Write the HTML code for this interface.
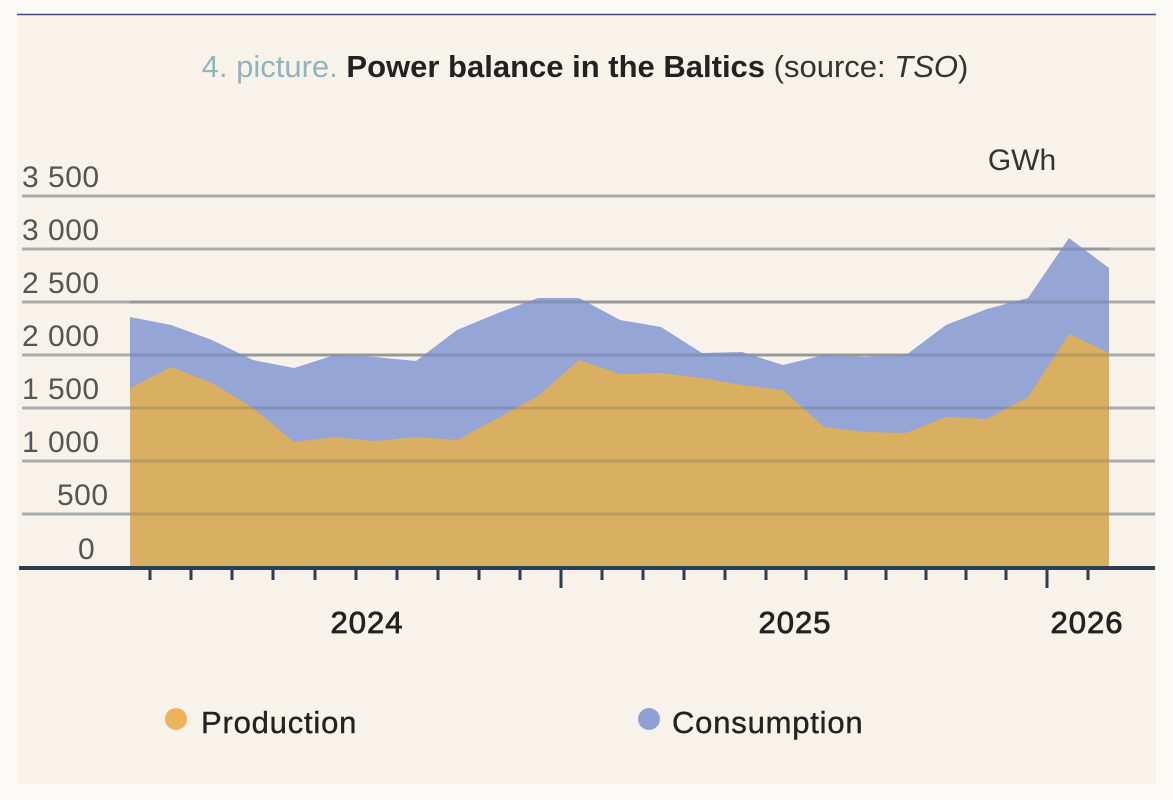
<!DOCTYPE html>
<html><head><meta charset="utf-8"><style>
body{margin:0;background:#fbfaf6;}
svg{display:block;font-family:"Liberation Sans",sans-serif;}
</style></head><body>
<svg width="1173" height="800" viewBox="0 0 1173 800">
<rect x="0" y="0" width="1173" height="800" fill="#fbfaf6"/>
<rect x="17" y="14" width="1139" height="770" fill="#f7f3ea"/>
<line x1="17" y1="14.5" x2="1156" y2="14.5" stroke="#3b4a8a" stroke-width="1.5"/>
<text x="585" y="77" text-anchor="middle" font-size="31"><tspan fill="#8fb5bd">4. picture. </tspan><tspan fill="#222" font-weight="bold">Power balance in the Baltics</tspan><tspan fill="#333"> (source: </tspan><tspan fill="#333" font-style="italic">TSO</tspan><tspan fill="#333">)</tspan></text>
<text x="1022" y="170" text-anchor="middle" font-size="30" fill="#333">GWh</text>
<g font-size="30" fill="#555" letter-spacing="0.5">
<text x="22" y="187">3 500</text>
<text x="22" y="240">3 000</text>
<text x="22" y="293">2 500</text>
<text x="22" y="346">2 000</text>
<text x="22" y="399">1 500</text>
<text x="22" y="452">1 000</text>
<text x="57" y="505">500</text>
<text x="78" y="559">0</text>
</g>
<g stroke="#ababab" stroke-width="3">
<line x1="22" y1="196" x2="1155" y2="196"/>
<line x1="22" y1="249" x2="1155" y2="249"/>
<line x1="22" y1="302" x2="1155" y2="302"/>
<line x1="22" y1="355" x2="1155" y2="355"/>
<line x1="22" y1="408" x2="1155" y2="408"/>
<line x1="22" y1="461" x2="1155" y2="461"/>
<line x1="22" y1="514" x2="1155" y2="514"/>
</g>
<polygon fill="#8fa0d4" fill-opacity="0.95" points="130,568 130,317 171,325 212,340 253,360 294,368 335,355 375,357 416,361 457,330 498,313 538,298 579,298 620,320 661,327 702,353 742,352 783,365 824,355 865,357 906,355 946,325 987,309 1028,298 1069,238 1109,268 1109,568"/>
<polygon fill="#dbb05e" fill-opacity="0.97" points="130,568 130,388 171,367 212,383 253,408 294,442 335,437 375,441 416,437 457,440 498,418 538,396 579,360 620,374 661,373 702,378 742,385 783,390 824,427 865,432 906,433 946,417 987,419 1028,397 1069,334 1109,353 1109,568"/>
<g stroke="#555" stroke-opacity="0.22" stroke-width="3">
<line x1="130" y1="302" x2="1109" y2="302"/>
<line x1="130" y1="355" x2="1109" y2="355"/>
<line x1="130" y1="408" x2="1109" y2="408"/>
<line x1="130" y1="461" x2="1109" y2="461"/>
<line x1="130" y1="514" x2="1109" y2="514"/>
<line x1="1050" y1="249" x2="1109" y2="249"/>
</g>
<line x1="19" y1="568" x2="1155" y2="568" stroke="#2c3e50" stroke-width="4"/>
<g stroke="#2c3e50" stroke-width="3">
<line x1="150" y1="568" x2="150" y2="580"/><line x1="191" y1="568" x2="191" y2="580"/><line x1="232" y1="568" x2="232" y2="580"/><line x1="273" y1="568" x2="273" y2="580"/><line x1="315" y1="568" x2="315" y2="580"/><line x1="356" y1="568" x2="356" y2="580"/><line x1="397" y1="568" x2="397" y2="580"/><line x1="438" y1="568" x2="438" y2="580"/><line x1="479" y1="568" x2="479" y2="580"/><line x1="520" y1="568" x2="520" y2="580"/>
<line x1="561" y1="568" x2="561" y2="588"/>
<line x1="602" y1="568" x2="602" y2="580"/><line x1="643" y1="568" x2="643" y2="580"/><line x1="684" y1="568" x2="684" y2="580"/><line x1="725" y1="568" x2="725" y2="580"/><line x1="766" y1="568" x2="766" y2="580"/><line x1="806" y1="568" x2="806" y2="580"/><line x1="846" y1="568" x2="846" y2="580"/><line x1="886" y1="568" x2="886" y2="580"/><line x1="926" y1="568" x2="926" y2="580"/><line x1="966" y1="568" x2="966" y2="580"/><line x1="1006" y1="568" x2="1006" y2="580"/>
<line x1="1047" y1="568" x2="1047" y2="588"/>
<line x1="1088" y1="568" x2="1088" y2="580"/>
</g>
<g font-size="31" fill="#222" stroke="#222" stroke-width="0.8" text-anchor="middle" letter-spacing="1">
<text x="367" y="633">2024</text>
<text x="795" y="633">2025</text>
<text x="1087" y="633">2026</text>
</g>
<circle cx="176" cy="719" r="11" fill="#edb35c"/>
<text x="201" y="733" font-size="31" fill="#222" stroke="#222" stroke-width="0.4" letter-spacing="0.8">Production</text>
<circle cx="649" cy="719" r="11" fill="#8fa0d4"/>
<text x="672" y="733" font-size="31" fill="#222" stroke="#222" stroke-width="0.4" letter-spacing="0.8">Consumption</text>
</svg>
</body></html>
